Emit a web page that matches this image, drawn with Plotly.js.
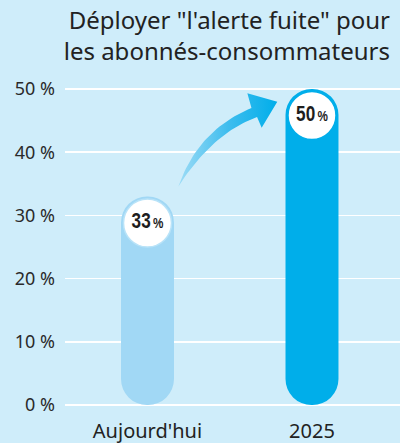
<!DOCTYPE html>
<html><head><meta charset="utf-8">
<script src="https://cdn.plot.ly/plotly-3.0.1.min.js"></script>
<style>html,body{margin:0;padding:0;background:#cfedfa;}#chart{width:400px;height:443px;}
.textpoint text{transform:scaleX(0.78);transform-box:fill-box;transform-origin:center;}</style>
</head><body><div id="chart"></div>
<script>
// ---- data ----
const categories = ["Aujourd'hui", "2025"];
const values = [33, 50];
const valueLabels = ["33", "50"];
const yTicks = [0, 10, 20, 30, 40, 50];
const yTickText = yTicks.map(v => v + ' %');

// ---- styles ----
const bg = '#cfedfa';
const barColors = ['#a1d8f5', '#00aeea'];
const ringColors = ['#b9e3f8', '#00aeea'];
const xPos = categories.map((c, i) => i);

const bars = {
  type: 'bar', x: xPos, base: values.map(() => 0), y: values,
  width: 0.322, marker: {color: barColors, cornerradius: '50%', line: {width: 0}},
  hoverinfo: 'skip', showlegend: false
};
const badges = {
  type: 'scatter', mode: 'markers+text', x: xPos, y: values.map(v => v - 4.2),
  marker: {size: 48, color: '#ffffff', line: {color: ringColors, width: 1.5}},
  text: valueLabels.map(s => '<b>' + s + '</b><span style="font-size:15px"><b>\u2009%</b></span>'),
  textposition: 'middle center',
  textfont: {family: 'Liberation Sans, Arial, sans-serif', size: 22, color: '#1e1e1e'},
  hoverinfo: 'skip', showlegend: false, cliponaxis: false
};

function quad(p0, c, p1, n) {
  const pts = [];
  for (let i = 0; i <= n; i++) {
    const t = i / n, a = (1 - t) * (1 - t), b = 2 * (1 - t) * t, d = t * t;
    pts.push([a * p0[0] + b * c[0] + d * p1[0], a * p0[1] + b * c[1] + d * p1[1]]);
  }
  return pts;
}
const tail = [0.187, 34.54];
let arrowPts = quad(tail, [0.307, 43.51], [0.632, 46.99], 30);
arrowPts.push([0.607, 49.32], [0.789, 47.99], [0.694, 43.88]);
arrowPts = arrowPts.concat(quad([0.666, 45.57], [0.394, 43.01], tail, 30));
const arrow = {
  type: 'scatter', mode: 'lines', x: arrowPts.map(p => p[0]), y: arrowPts.map(p => p[1]),
  line: {width: 0, color: 'rgba(0,0,0,0)'}, fill: 'toself',
  fillcolor: '#2ab5eb',
  fillgradient: {type: 'horizontal', colorscale: [[0, '#9ddcf6'], [0.5, '#3fbdee'], [1, '#00aeea']]},
  hoverinfo: 'skip', showlegend: false
};

const layout = {
  width: 400, height: 443,
  paper_bgcolor: bg, plot_bgcolor: bg,
  margin: {l: 65, r: 0, t: 80, b: 30},
  barmode: 'overlay',
  title: {
    text: 'Déployer "l\'alerte fuite" pour<br>les abonnés-consommateurs',
    font: {family: 'Noto Sans, sans-serif', size: 24, color: '#222222'},
    x: 0.975, xanchor: 'right', xref: 'container', y: 0.935, yanchor: 'top', yref: 'container'
  },
  xaxis: {
    type: 'linear', range: [-0.5015, 1.535], tickvals: xPos, ticktext: categories,
    showgrid: false, zeroline: false, showline: false, ticks: '',
    tickfont: {family: 'Noto Sans, sans-serif', size: 20, color: '#222222'},
    ticklabelstandoff: 4, fixedrange: true
  },
  yaxis: {
    range: [-1.266, 51.424], tickvals: yTicks, ticktext: yTickText,
    showgrid: true, gridcolor: '#ffffff', gridwidth: 1.5, zeroline: false, showline: false, ticks: '',
    tickfont: {family: 'Noto Sans, sans-serif', size: 18, color: '#2a2a2a'},
    ticklabelstandoff: 9, fixedrange: true
  },
  showlegend: false
};

Plotly.newPlot('chart', [arrow, bars, badges], layout, {displayModeBar: false, staticPlot: true});
</script></body></html>
